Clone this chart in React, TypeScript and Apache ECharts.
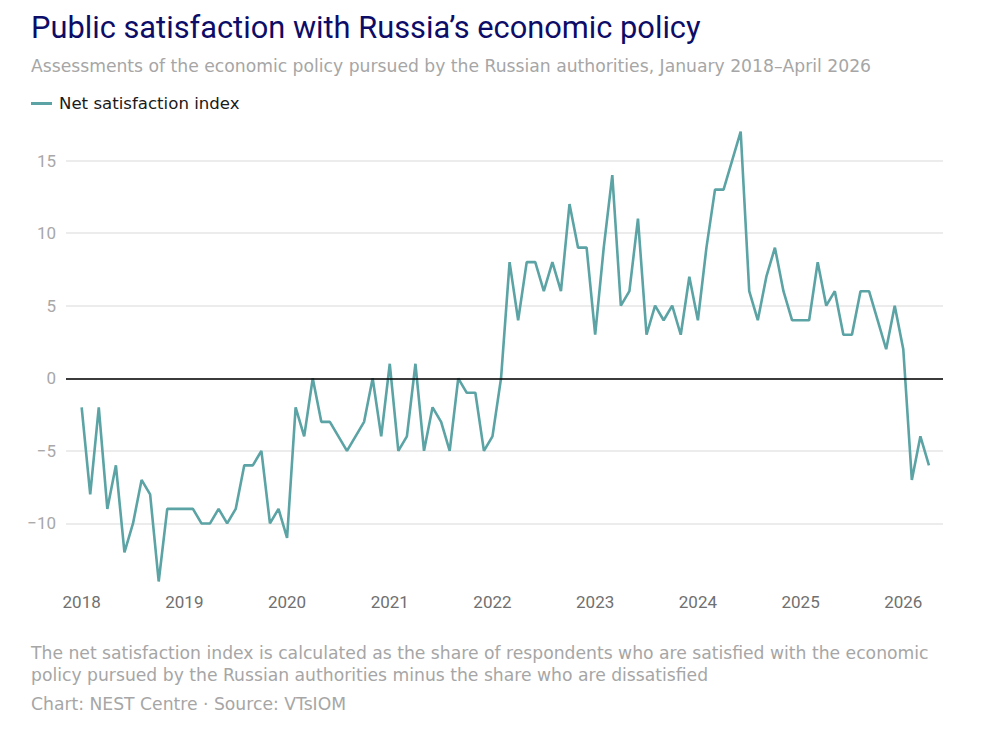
import React, { useEffect, useRef } from "react";
import * as echarts from "echarts";

const startYear = 2018;
const yearLabels = ["2018", "2019", "2020", "2021", "2022", "2023", "2024", "2025", "2026"];
const yTicks = [-10, -5, 0, 5, 10, 15];

const v2018 = [-2, -8, -2, -9, -6, -12, -10, -7, -8, -14, -9, -9];
const v2019 = [-9, -9, -10, -10, -9, -10, -9, -6, -6, -5, -10, -9];
const v2020 = [-11, -2, -4, 0, -3, -3, -4, -5, -4, -3, 0, -4];
const v2021 = [1, -5, -4, 1, -5, -2, -3, -5, 0, -1, -1, -5];
const v2022 = [-4, 0, 8, 4, 8, 8, 6, 8, 6, 12, 9, 9];
const v2023 = [3, 9, 14, 5, 6, 11, 3, 5, 4, 5, 3, 7];
const v2024 = [4, 9, 13, 13, 15, 17, 6, 4, 7, 9, 6, 4];
const v2025 = [4, 4, 8, 5, 6, 3, 3, 6, 6, 4, 2, 5];
const v2026 = [2, -7, -4, -6];

const netIndex = [...v2018, ...v2019, ...v2020, ...v2021, ...v2022, ...v2023, ...v2024, ...v2025, ...v2026];

const FONT = "Roboto";
const TEXT_FONT = "'DejaVu Sans'";

export default function App() {
  const ref = useRef<HTMLDivElement>(null);
  useEffect(() => {
    document.body.style.margin = "0";
    const chart = echarts.init(ref.current!, undefined, { renderer: "svg" });
    const seriesData = netIndex.map((v, i) => [i, v]);
    const yearTickValues = yearLabels.map((_, i) => i * 12);
    chart.setOption({
      animation: false,
      textStyle: { fontFamily: FONT },
      legend: {
        left: 31,
        top: 95,
        icon: "rect",
        itemWidth: 21,
        itemHeight: 3,
        padding: 0,
        textStyle: { fontFamily: TEXT_FONT, fontSize: 16.6, color: "#1a1a1a", padding: [0, 0, 0, 2] },
        data: ["Net satisfaction index"],
      },
      grid: { left: 66, right: 51, top: 88, bottom: 146 },
      xAxis: {
        type: "value",
        min: -1.83,
        max: 100.64,
        axisLine: { show: false },
        axisTick: { show: false },
        splitLine: { show: false },
        axisLabel: {
          customValues: yearTickValues,
          formatter: (v: number) => String(startYear + Math.round(v / 12)),
          fontFamily: FONT,
          fontSize: 17,
          color: "#707070",
          margin: 6,
          verticalAlign: "middle",
        },
      },
      yAxis: {
        type: "value",
        min: -15,
        max: 20,
        interval: 5,
        axisLine: { show: false },
        axisTick: { show: false },
        splitLine: {
          show: true,
          showMinLine: false,
          showMaxLine: false,
          lineStyle: { color: "#e6e6e6", width: 1.5 },
        },
        axisLabel: {
          showMinLabel: false,
          showMaxLabel: false,
          formatter: (v: number) => (yTicks.includes(v) ? String(v).replace("-", "−") : ""),
          fontFamily: FONT,
          fontSize: 17,
          color: "#a8a8a8",
          margin: 10,
        },
      },
      series: [
        {
          name: "Net satisfaction index",
          type: "line",
          data: seriesData,
          showSymbol: false,
          symbol: "none",
          lineStyle: { color: "#5ba3a4", width: 2.6 },
          itemStyle: { color: "#5ba3a4" },
          markLine: {
            silent: true,
            symbol: "none",
            label: { show: false },
            lineStyle: { color: "#000000", width: 1.5, type: "solid" },
            data: [{ yAxis: 0 }],
          },
          z: 3,
        },
      ],
      graphic: [
        {
          type: "text",
          left: 31,
          top: 12,
          style: { text: "Public satisfaction with Russia’s economic policy", font: `30.8px ${FONT}`, fill: "#0d0d68" },
        },
        {
          type: "text",
          left: 31,
          top: 57,
          style: {
            text: "Assessments of the economic policy pursued by the Russian authorities, January 2018–April 2026",
            font: `17.2px ${TEXT_FONT}`,
            fill: "#a6a6a6",
          },
        },
        {
          type: "text",
          left: 31,
          top: 642,
          style: {
            text:
              "The net satisfaction index is calculated as the share of respondents who are satisfied with the economic\npolicy pursued by the Russian authorities minus the share who are dissatisfied",
            font: `17.2px ${TEXT_FONT}`,
            lineHeight: 22,
            fill: "#a6a6a6",
          },
        },
        {
          type: "text",
          left: 31,
          top: 695,
          style: { text: "Chart: NEST Centre · Source: VTsIOM", font: `17.2px ${TEXT_FONT}`, fill: "#a6a6a6" },
        },
      ],
    });
    return () => chart.dispose();
  }, []);
  return <div ref={ref} style={{ width: 994, height: 742 }} />;
}
